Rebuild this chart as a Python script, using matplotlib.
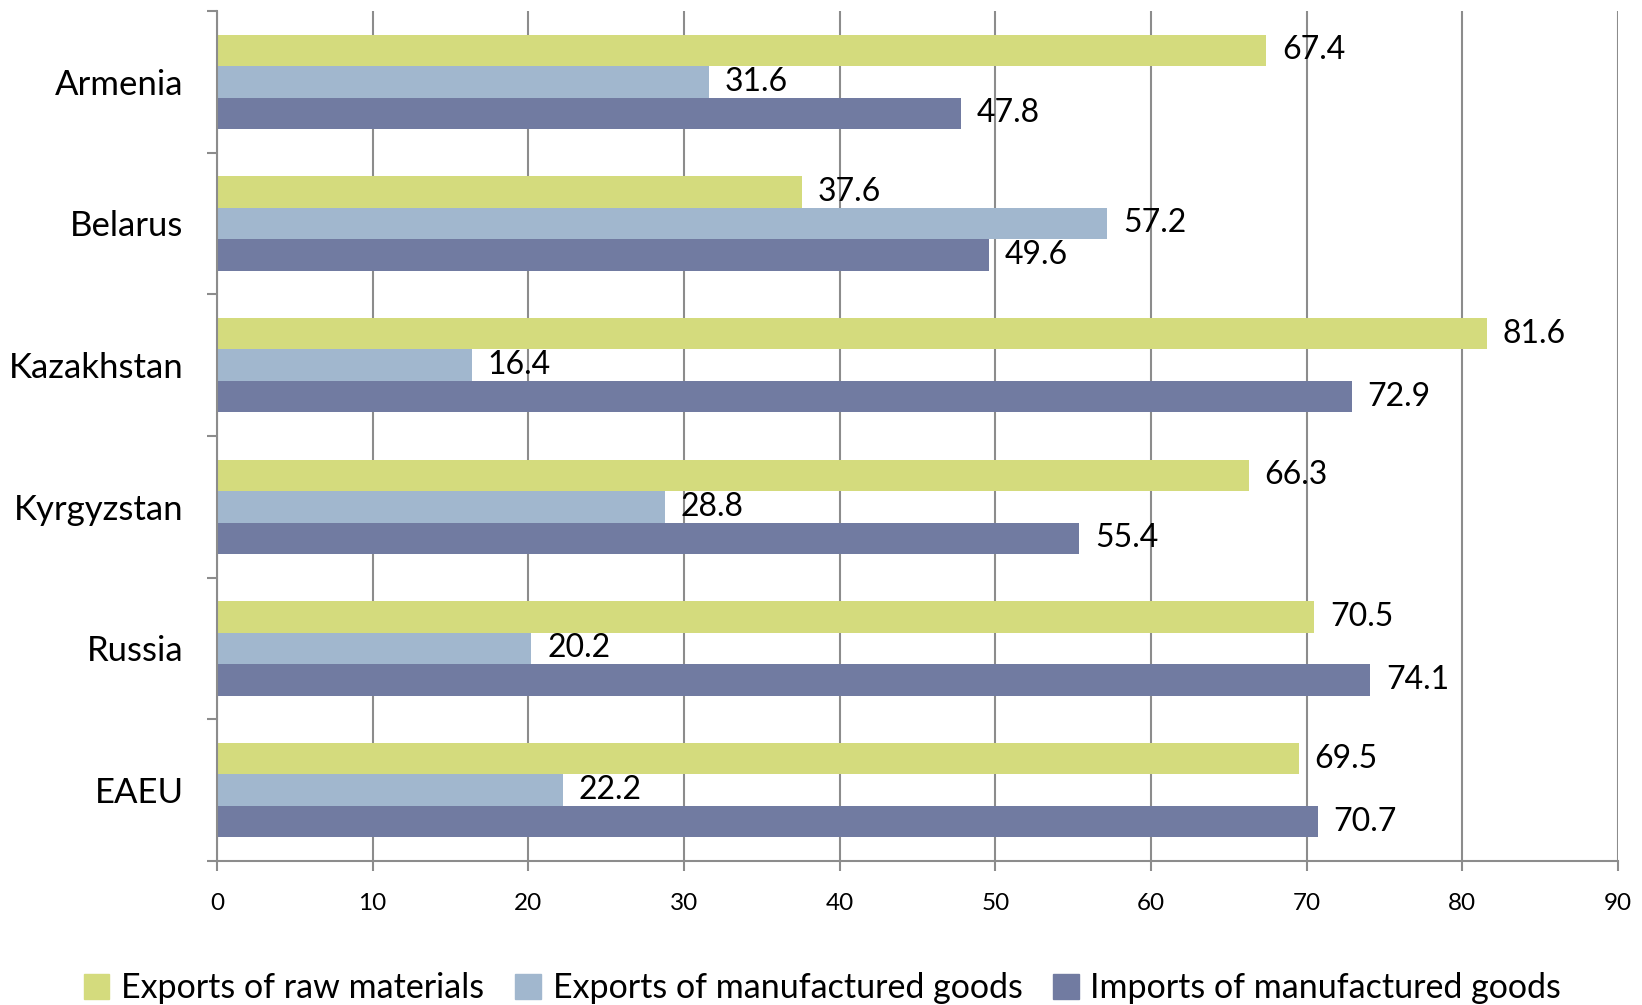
import matplotlib.pyplot as plt
import matplotlib.patches as mpatches
import numpy as np

plt.rcParams["font.family"] = ["Lato", "DejaVu Sans"]

countries = ["Armenia", "Belarus", "Kazakhstan", "Kyrgyzstan", "Russia", "EAEU"]
raw_exports = [67.4, 37.6, 81.6, 66.3, 70.5, 69.5]
manuf_exports = [31.6, 57.2, 16.4, 28.8, 20.2, 22.2]
manuf_imports = [47.8, 49.6, 72.9, 55.4, 74.1, 70.7]
series_names = ["Exports of raw materials", "Exports of manufactured goods",
                "Imports of manufactured goods"]
x_ticks = [0, 10, 20, 30, 40, 50, 60, 70, 80, 90]

COLORS = ["#D4DB7D", "#A1B7CE", "#717BA1"]
GRID = "#8C8C8C"


def main():
    fig = plt.figure(figsize=(16.42, 10.05), dpi=100)
    ax = fig.add_axes([217 / 1642, 1 - 861 / 1005, (1618 - 217) / 1642, 850 / 1005])

    y = np.arange(len(countries))
    h = 0.6667 / 3
    series = [raw_exports, manuf_exports, manuf_imports]
    for k, (vals, col) in enumerate(zip(series, COLORS)):
        pos = y + (k - 1) * h
        ax.barh(pos, vals, height=h, color=col, zorder=2, label=series_names[k])
        for p, v in zip(pos, vals):
            ax.text(v + 1.0, p, f"{v}", va="center", ha="left",
                    fontsize=23, color="black", zorder=3)

    ax.set_xlim(0, 90)
    ax.set_ylim(len(countries) - 0.5, -0.5)
    ax.set_xticks(x_ticks)
    ax.set_xticklabels([str(t) for t in x_ticks], fontsize=17.5)
    ax.set_yticks(y)
    ax.set_yticklabels(countries, fontsize=25)
    ax.set_yticks(np.arange(len(countries) + 1) - 0.5, minor=True)
    ax.tick_params(axis="y", which="major", length=0, pad=24)
    ax.tick_params(axis="y", which="minor", length=7, width=1.5, color=GRID)
    ax.tick_params(axis="x", length=7, width=1.5, color=GRID, pad=16)

    ax.grid(axis="x", color=GRID, lw=1.5, zorder=0)
    ax.set_axisbelow(True)
    for s in ("top", "right"):
        ax.spines[s].set_visible(False)
    for s in ("left", "bottom"):
        ax.spines[s].set_color(GRID)
        ax.spines[s].set_linewidth(1.5)

    handles = [mpatches.Patch(color=c) for c in COLORS]
    fig.legend(handles, series_names, loc="center", ncol=3,
               bbox_to_anchor=(0.501, 1 - 988 / 1005), frameon=False,
               fontsize=24.5, handlelength=0.75, handleheight=0.75,
               handletextpad=0.35, columnspacing=0.9)

    fig.savefig("out.png", dpi=100)
    plt.close(fig)


if __name__ == "__main__":
    main()
